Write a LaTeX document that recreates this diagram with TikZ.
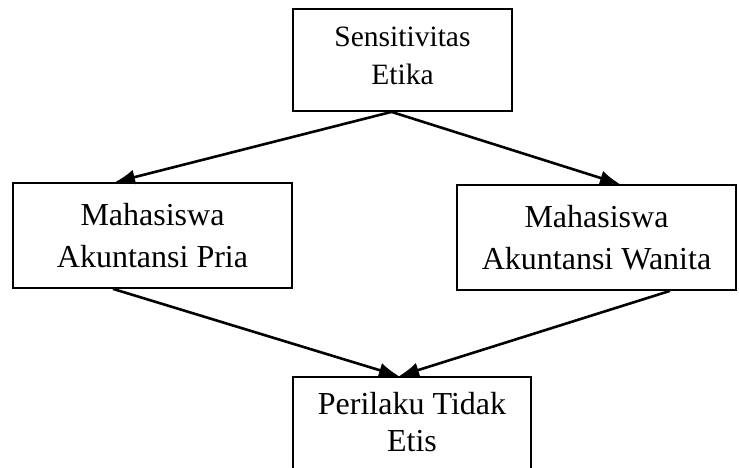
\documentclass[tikz,border=0pt]{standalone}
\usepackage{fontspec}
\setmainfont{Liberation Serif}
\usepackage{tikz}
\usetikzlibrary{arrows.meta}
\usetikzlibrary{positioning}

\tikzset{
	kotak/.style={draw,line width=1.8pt,align=center,inner sep=0pt},
	panah/.style={-{Latex[length=20pt,width=15pt]},line width=2.6pt},
}

\begin{document}
\begin{tikzpicture}[x=1pt,y=1pt]
	\useasboundingbox (0,0) rectangle (739,468);
	\node[kotak,minimum width=219pt,minimum height=102pt,font=\fontsize{29.5}{38}\selectfont] (etika) at (402.5,408) {Sensitivitas\\Etika\rule[-8pt]{0pt}{0pt}};
	\node[kotak,minimum width=279pt,minimum height=105pt,font=\fontsize{32}{42}\selectfont] (pria) at (152.5,232.5) {Mahasiswa\\Akuntansi Pria};
	\node[kotak,minimum width=279pt,minimum height=105pt,font=\fontsize{32}{42}\selectfont] (wanita) at (596.5,230.5) {Mahasiswa\\Akuntansi Wanita};
	\node[kotak,minimum width=238pt,minimum height=96pt,font=\fontsize{32}{37}\selectfont] (perilaku) at (412,43) {Perilaku Tidak\\Etis\rule[-6pt]{0pt}{0pt}};
	\draw[panah] ([xshift=-11pt]etika.south) -- ([xshift=-37.5pt]pria.north);
	\draw[panah] ([xshift=-11pt]etika.south) -- ([xshift=23.5pt]wanita.north);
	\draw[panah] ([xshift=-39.5pt]pria.south) -- ([xshift=-13pt]perilaku.north);
	\draw[panah] ([xshift=73.5pt]wanita.south) -- ([xshift=-13pt]perilaku.north);
\end{tikzpicture}
\end{document}
